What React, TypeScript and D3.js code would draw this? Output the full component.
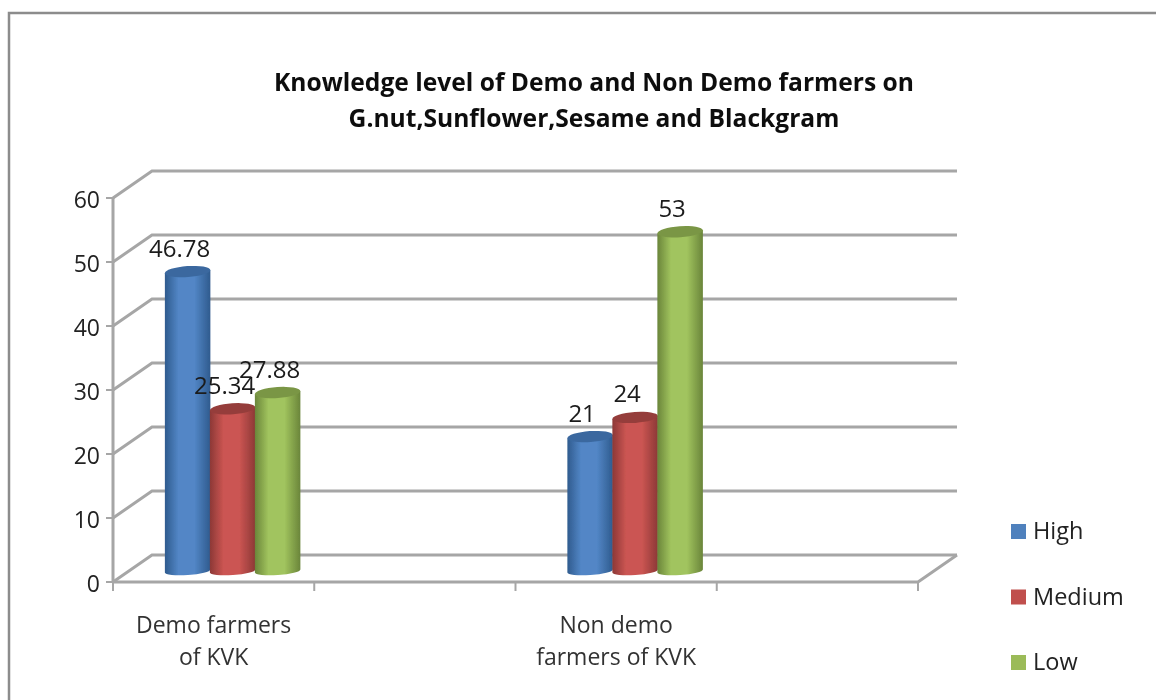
import React from "react";
import * as d3 from "d3";

const categories = ["Demo farmers|of KVK", "_a", "Non demo|farmers of KVK", "_b"];
const seriesNames = ["High", "Medium", "Low"];
const high = [46.78, null, 21, null];
const medium = [25.34, null, 24, null];
const low = [27.88, null, 53, null];
const yTicks = [0, 10, 20, 30, 40, 50, 60];
const titleLines = ["Knowledge level of Demo and Non Demo farmers on", "G.nut,Sunflower,Sesame and Blackgram"];
const palette = [
  { main: "#5286C6", edge: "#2F5B8E", top: "#3A689F", swatch: "#4F81BD" },
  { main: "#CB5552", edge: "#8C3836", top: "#953E3B", swatch: "#C0504D" },
  { main: "#A1C45E", edge: "#6A853A", top: "#7A9645", swatch: "#9BBB59" },
];
const seriesValues = [high, medium, low];

const FONT = "'Open Sans', 'Noto Sans', sans-serif";
const GRID = "#A6A6A6";
const left = 113, right = 918, y0 = 582, y60 = 198, dx = 39, dy = -27;

export default function App() {
  const x = d3.scaleBand<string>().domain(categories).range([left, right]);
  const y = d3.scaleLinear().domain([0, 60]).range([y0, y60]);
  const barW = 45.5;
  const baseDx = 19, baseDy = -11;
  const tiltDeg = -4;

  return (
    <svg width={1156} height={700} style={{ position: "absolute", left: 0, top: 0, background: "#fff" }} fontFamily={FONT}>
      <defs>
        {palette.map((p, i) => (
          <linearGradient key={i} id={`cyl${i}`} x1="0" x2="1" y1="0" y2="0">
            <stop offset="0" stopColor={p.edge} />
            <stop offset="0.3" stopColor={p.main} />
            <stop offset="0.65" stopColor={p.main} />
            <stop offset="1" stopColor={p.edge} />
          </linearGradient>
        ))}
        <filter id="soft" x="-5%" y="-5%" width="110%" height="110%">
          <feGaussianBlur stdDeviation="0.5" />
        </filter>
      </defs>
      <g filter="url(#soft)">
        <path d="M9 710 V13 H1170" fill="none" stroke="#8C8C8C" strokeWidth={2.5} />

        {titleLines.map((t, i) => (
          <text key={i} x={594} y={91 + i * 35.5} textAnchor="middle" fontSize={24.6} fontWeight={700} fill="#111">{t}</text>
        ))}

        {yTicks.map((t) => (
          <g key={t} stroke={GRID} strokeWidth={3} fill="none">
            <path d={`M${left} ${y(t)} L${left + dx} ${y(t) + dy} H${right + dx}`} />
            <line x1={left - 7} x2={left} y1={y(t)} y2={y(t)} strokeWidth={2} />
          </g>
        ))}
        <line x1={left} x2={left} y1={y0} y2={y60} stroke={GRID} strokeWidth={3} />
        <path d={`M${left} ${y0} H${right} L${right + dx} ${y0 + dy}`} fill="none" stroke={GRID} strokeWidth={3} />
        {[...x.domain().map((c) => x(c)!), right].map((tx, i) => (
          <line key={i} x1={tx} x2={tx} y1={y0} y2={y0 + 9} stroke={GRID} strokeWidth={2} />
        ))}

        {yTicks.map((t) => (
          <text key={t} x={100} y={y(t) + 10} textAnchor="end" fontSize={23} fill="#222">{t}</text>
        ))}

        {categories.filter((c) => !c.startsWith("_")).map((c) =>
          c.split("|").map((line, i) => (
            <text key={line} x={x(c)! + x.bandwidth() / 2} y={633 + i * 32} textAnchor="middle" fontSize={23} fill="#333">{line}</text>
          ))
        )}

        {seriesValues.map((vals, s) =>
          vals.map((v, c) => {
            if (v === null) return null;
            const cx = x(categories[c])! + x.bandwidth() / 2 + baseDx + (s - 1) * (barW - 0.5);
            const base = y0 + baseDy;
            const topY = y(v) + baseDy;
            const rx = barW / 2, ry = 5.5;
            const t = rx * Math.sin((-tiltDeg * Math.PI) / 180);
            const d = `M${cx - rx} ${topY + t} V${base + t} A${rx} 4 ${tiltDeg} 0 0 ${cx + rx} ${base - t} V${topY - t} Z`;
            return (
              <g key={`${s}-${c}`}>
                <path d={d} fill={`url(#cyl${s})`} />
                <ellipse cx={0} cy={0} rx={rx} ry={ry} fill={palette[s].top} transform={`translate(${cx} ${topY}) rotate(${tiltDeg})`} />
              </g>
            );
          })
        )}
        {seriesValues.map((vals, s) =>
          vals.map((v, c) => {
            if (v === null) return null;
            const cx = x(categories[c])! + x.bandwidth() / 2 + baseDx + (s - 1) * (barW - 0.5);
            return (
              <text key={`${s}-${c}`} x={cx - 8} y={y(v) + baseDy - 15} textAnchor="middle" fontSize={24} fill="#1a1a1a">{String(v)}</text>
            );
          })
        )}

        {seriesNames.map((n, i) => {
          const ly = 531 + i * 65.5;
          return (
            <g key={n}>
              <rect x={1011} y={ly - 7} width={15} height={15} fill={palette[i].swatch} />
              <text x={1033} y={ly + 8} fontSize={23.5} fill="#222">{n}</text>
            </g>
          );
        })}
      </g>
    </svg>
  );
}
